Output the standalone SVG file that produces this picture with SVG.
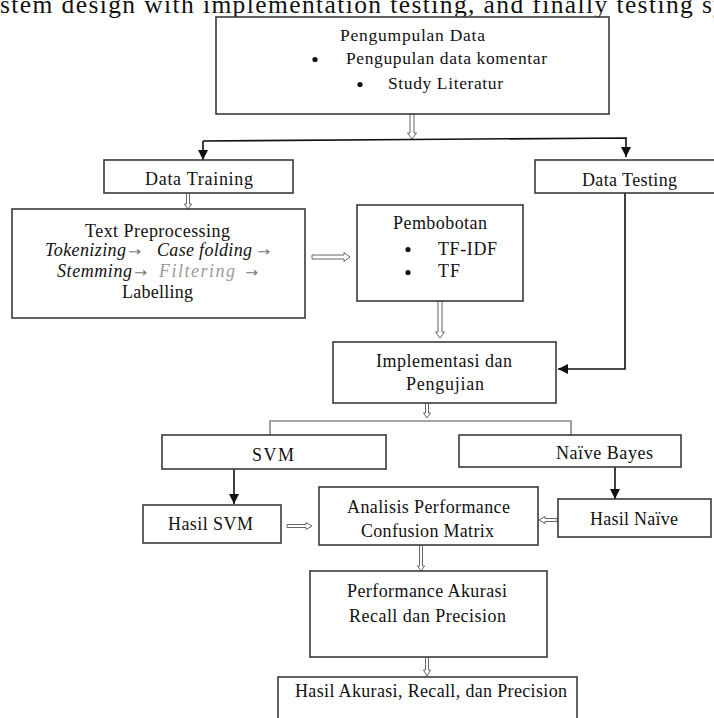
<svg xmlns="http://www.w3.org/2000/svg" width="714" height="718" viewBox="0 0 714 718">
<defs>
<marker id="ah" viewBox="0 0 10 10" refX="10" refY="5" markerWidth="10" markerHeight="10" markerUnits="userSpaceOnUse" orient="auto">
<path d="M0,0 L10,5 L0,10 z" fill="#111"/>
</marker>
</defs>
<style>
.box{fill:#fff;stroke:#3a3a3a;stroke-width:1.6}
.t{font-family:"Liberation Serif","Times New Roman",serif;fill:#111;font-size:18px}
.s17{font-size:17.5px}
.it{font-style:italic}
.ar{font-family:"DejaVu Sans",sans-serif;font-size:13px;fill:#777;font-style:normal}
.lg{fill:#9a9a9a}
.line{fill:none;stroke:#111;stroke-width:1.6}
.gline{fill:none;stroke:#888;stroke-width:1.6}
.open{fill:#fff;stroke:#666;stroke-width:1}
.dot{fill:#111}
</style>
<rect width="714" height="718" fill="#fff"/>
<text class="t" x="0" y="12.5" style="font-size:25.5px" fill="#222" textLength="726" lengthAdjust="spacing">stem design with implementation testing, and finally testing sy</text>

<g id="connectors">
<polygon class="open" points="410,114 414,114 414,133 416.5,133 412,139 407.5,133 410,133"/>
<polyline class="line" points="203,141 412,139.5 626,138 626,157" marker-end="url(#ah)"/>
<line class="line" x1="203" y1="141" x2="203" y2="160" marker-end="url(#ah)"/>
<polygon class="open" points="186.5,193 189.5,193 189.5,204 191.5,204 188,209 184.5,204 186.5,204"/>
<polygon class="open" points="312,255 344,255 344,252.5 350,257 344,261.5 344,259 312,259"/>
<polygon class="open" points="438,301 442,301 442,332 444.5,332 440,338 435.5,332 438,332"/>
<polyline class="line" points="625,193 625,369 558,369" marker-end="url(#ah)"/>
<polygon class="open" points="425.5,403 428.5,403 428.5,413 430.5,413 427,418 423.5,413 425.5,413"/>
<polyline class="gline" points="270,435 270,421 571,421 571,435"/>
<line class="line" x1="234" y1="469" x2="234" y2="504" marker-end="url(#ah)"/>
<line class="line" x1="615" y1="467" x2="615" y2="499" marker-end="url(#ah)"/>
<polygon class="open" points="287,524.5 306,524.5 306,522.5 312,526 306,529.5 306,527.5 287,527.5"/>
<polygon class="open" points="557,518.5 545,518.5 545,516.5 539,520 545,523.5 545,521.5 557,521.5"/>
<polygon class="open" points="419.5,545 422.5,545 422.5,566 424.5,566 421,571 417.5,566 419.5,566"/>
<polygon class="open" points="425.5,657 428.5,657 428.5,670 430.5,670 427,676 423.5,670 425.5,670"/>
</g>

<g id="pengumpulan">
<rect class="box" x="216" y="17" width="393" height="97"/>
<text class="t s17" x="340" y="41" textLength="145" lengthAdjust="spacing">Pengumpulan Data</text>
<circle class="dot" cx="315" cy="59.5" r="2.6"/>
<text class="t s17" x="346" y="64" textLength="201" lengthAdjust="spacing">Pengupulan data komentar</text>
<circle class="dot" cx="360" cy="84.5" r="2.6"/>
<text class="t s17" x="388" y="89" textLength="115" lengthAdjust="spacing">Study Literatur</text>
</g>

<g id="data-training">
<rect class="box" x="104" y="160" width="189" height="33"/>
<text class="t" x="145" y="185" textLength="108" lengthAdjust="spacing">Data Training</text>
</g>

<g id="data-testing">
<rect class="box" x="535" y="160" width="190" height="33"/>
<text class="t" x="582" y="186" textLength="95" lengthAdjust="spacing">Data Testing</text>
</g>

<g id="text-preprocessing">
<rect class="box" x="12" y="209" width="293" height="109"/>
<text class="t" x="85" y="237" textLength="145" lengthAdjust="spacing">Text Preprocessing</text>
<text class="t" y="256"><tspan class="it" x="45" textLength="81" lengthAdjust="spacing">Tokenizing</tspan><tspan class="ar" x="128" textLength="13" lengthAdjust="spacingAndGlyphs">→</tspan><tspan class="it" x="157" textLength="95" lengthAdjust="spacing">Case folding</tspan><tspan class="ar" x="257" textLength="13" lengthAdjust="spacingAndGlyphs">→</tspan></text>
<text class="t" y="277"><tspan class="it" x="57" textLength="75" lengthAdjust="spacing">Stemming</tspan><tspan class="ar" x="134" textLength="13" lengthAdjust="spacingAndGlyphs">→</tspan><tspan class="it lg" x="159" textLength="76" lengthAdjust="spacing">Filtering</tspan><tspan class="ar" x="245" textLength="13" lengthAdjust="spacingAndGlyphs">→</tspan></text>
<text class="t" x="122" y="298" textLength="71" lengthAdjust="spacing">Labelling</text>
</g>

<g id="pembobotan">
<rect class="box" x="357" y="205" width="166" height="96"/>
<text class="t" x="393" y="229" textLength="94" lengthAdjust="spacing">Pembobotan</text>
<circle class="dot" cx="408" cy="249.5" r="2.6"/>
<text class="t" x="438" y="255" textLength="59" lengthAdjust="spacing">TF-IDF</text>
<circle class="dot" cx="408" cy="272.5" r="2.6"/>
<text class="t" x="438" y="277" textLength="22" lengthAdjust="spacing">TF</text>
</g>

<g id="implementasi">
<rect class="box" x="333" y="342" width="223" height="61"/>
<text class="t" x="376" y="367" textLength="136" lengthAdjust="spacing">Implementasi dan</text>
<text class="t" x="406" y="390" textLength="78" lengthAdjust="spacing">Pengujian</text>
</g>

<g id="svm">
<rect class="box" x="162" y="435" width="224" height="34"/>
<text class="t" x="252" y="461" textLength="42" lengthAdjust="spacing">SVM</text>
</g>

<g id="naive-bayes">
<rect class="box" x="459" y="435" width="222" height="32"/>
<text class="t" x="556" y="459" textLength="97" lengthAdjust="spacing">Naïve Bayes</text>
</g>

<g id="hasil-svm">
<rect class="box" x="143" y="505" width="138" height="38"/>
<text class="t" x="168" y="530" textLength="85" lengthAdjust="spacing">Hasil SVM</text>
</g>

<g id="analisis">
<rect class="box" x="319" y="487" width="219" height="58"/>
<text class="t" x="347" y="513" textLength="163" lengthAdjust="spacing">Analisis Performance</text>
<text class="t" x="361" y="537" textLength="133" lengthAdjust="spacing">Confusion Matrix</text>
</g>

<g id="hasil-naive">
<rect class="box" x="558" y="499" width="153" height="38"/>
<text class="t" x="590" y="525" textLength="88" lengthAdjust="spacing">Hasil Naïve</text>
</g>

<g id="performance">
<rect class="box" x="310" y="571" width="237" height="86"/>
<text class="t" x="347" y="597" textLength="160" lengthAdjust="spacing">Performance Akurasi</text>
<text class="t" x="349" y="622" textLength="157" lengthAdjust="spacing">Recall dan Precision</text>
</g>

<g id="hasil-akhir">
<rect class="box" x="278" y="677" width="299" height="50"/>
<text class="t" x="295" y="697" textLength="272" lengthAdjust="spacing">Hasil Akurasi, Recall, dan Precision</text>
</g>
</svg>
